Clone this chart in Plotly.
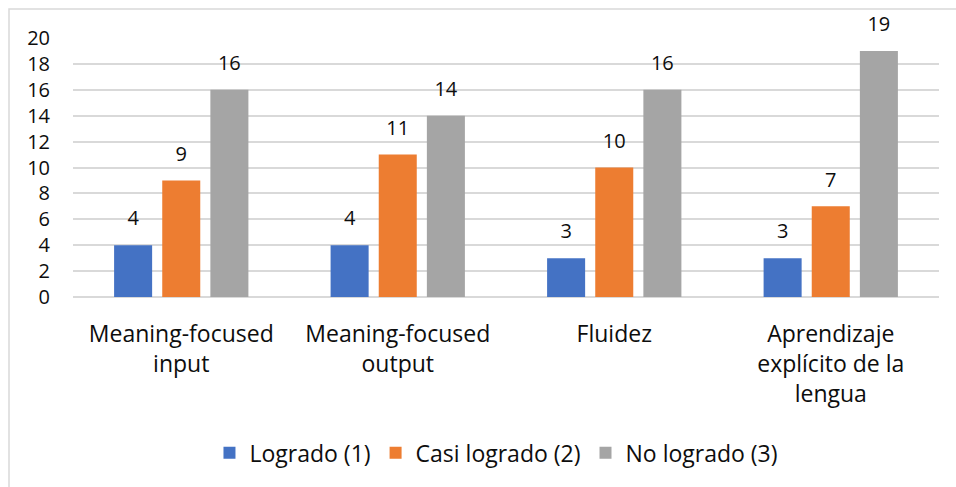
import plotly.graph_objects as go

categories = [
    "Meaning-focused<br>input",
    "Meaning-focused<br>output",
    "Fluidez",
    "Aprendizaje<br>explícito de la<br>lengua",
]
series_names = ["Logrado (1)", "Casi logrado (2)", "No logrado (3)"]
logrado = [4, 4, 3, 3]
casi_logrado = [9, 11, 10, 7]
no_logrado = [16, 14, 16, 19]
y_ticks = list(range(0, 21, 2))

colors = ["#4472C4", "#ED7D31", "#A5A5A5"]
font_family = "Open Sans, Arial, sans-serif"
text_color = "#0d0d0d"
bar_gap = 0.333

fig = go.Figure()
for i, (name, values, color) in enumerate(zip(series_names, [logrado, casi_logrado, no_logrado], colors)):
    fig.add_trace(go.Bar(
        name=name,
        x=categories,
        y=values,
        marker=dict(color=color, line=dict(width=0)),
        offsetgroup=str(i),
    ))

# value labels, grouped the same way as the bars
for i, values in enumerate([logrado, casi_logrado, no_logrado]):
    fig.add_trace(go.Scatter(
        x=categories,
        y=values,
        mode="markers+text",
        text=[str(v) for v in values],
        textposition="top center",
        marker=dict(size=22, opacity=0),
        textfont=dict(size=20, color=text_color, family=font_family),
        offsetgroup=str(i),
        showlegend=False,
        hoverinfo="skip",
        cliponaxis=False,
    ))

fig.update_layout(
    width=956,
    height=487,
    margin=dict(l=73, r=17, t=38, b=190),
    paper_bgcolor="white",
    plot_bgcolor="white",
    barmode="group",
    bargap=bar_gap,
    bargroupgap=0.21,
    scattermode="group",
    scattergap=bar_gap,
    font=dict(family=font_family, color=text_color),
    showlegend=True,
    legend=dict(
        orientation="h",
        x=0.489,
        xanchor="center",
        y=-0.602,
        yanchor="middle",
        font=dict(size=23, color=text_color, family=font_family),
        itemwidth=30,
        traceorder="normal",
    ),
    shapes=[
        dict(
            type="rect",
            xref="paper", yref="paper",
            x0=-0.0739, x1=1.03, y0=-0.76, y1=1.112,
            line=dict(color="#D9D9D9", width=1.5),
            fillcolor="rgba(0,0,0,0)",
            layer="below",
        )
    ],
)

fig.update_xaxes(
    showgrid=False,
    showline=False,
    ticks="",
    ticklabelstandoff=21,
    tickfont=dict(size=23, color=text_color, family=font_family),
)
fig.update_yaxes(
    range=[0, 20],
    tickvals=y_ticks,
    showgrid=True,
    gridcolor="#D9D9D9",
    gridwidth=1.5,
    zeroline=True,
    zerolinecolor="#D9D9D9",
    zerolinewidth=1.5,
    showline=False,
    ticks="",
    ticklabelstandoff=22,
    tickfont=dict(size=20, color=text_color, family=font_family),
)

fig.write_html("out.html")
